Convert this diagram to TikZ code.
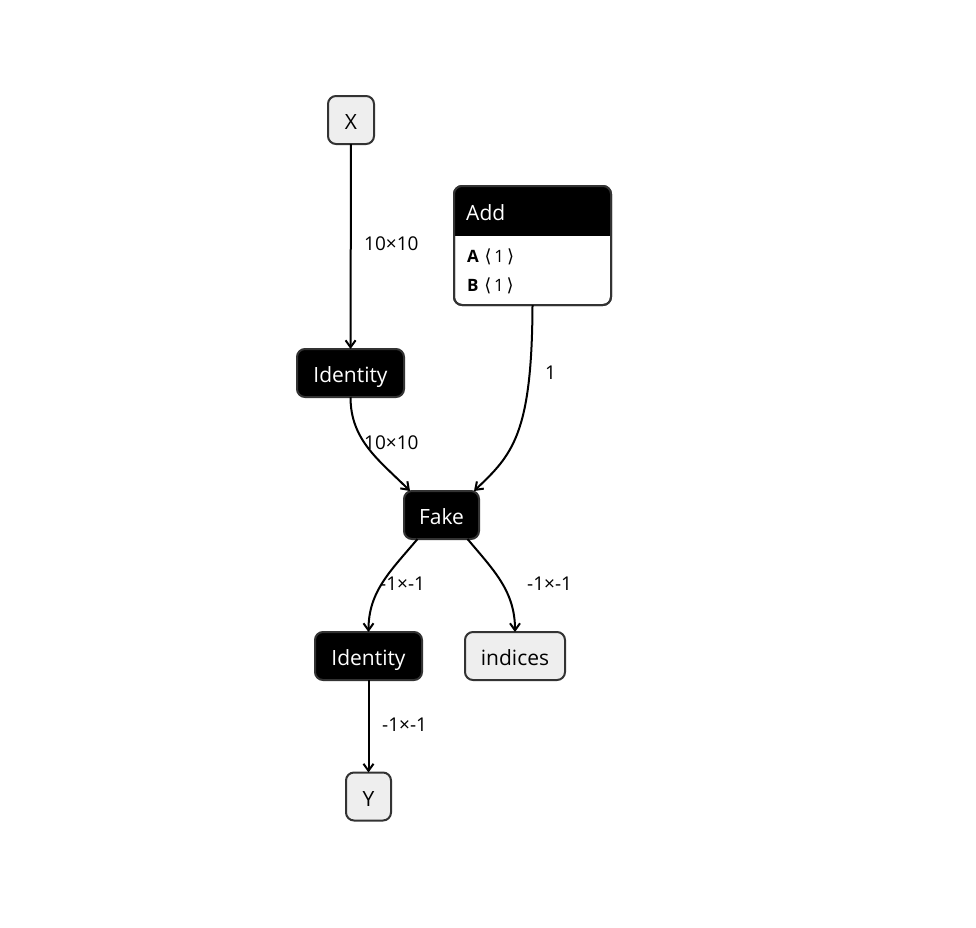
\documentclass[tikz,border=0pt]{standalone}
\usepackage{fontspec}
\setmainfont{Open Sans}
\newfontfamily\symfont{DejaVu Sans}
\usepackage{xcolor}
\usepackage{tikz}
\usetikzlibrary{arrows.meta,calc}
\definecolor{boxgray}{HTML}{EEEEEE}
\definecolor{linegray}{HTML}{333333}

\begin{document}
\begin{tikzpicture}[x=1pt,y=-1pt,>={Straight Barb[length=7pt,width=10pt]},
  box/.style={draw=linegray,line width=2pt,fill=boxgray,rounded corners=8pt,outer sep=0pt,
    minimum height=48pt,inner xsep=0pt,text height=19pt,text depth=0pt,font=\fontsize{21}{25}\selectfont},
  op/.style={box,fill=black,text=white},
  edge/.style={->,line width=2pt},
  lbl/.style={anchor=west,inner sep=0pt,font=\fontsize{19}{23}\selectfont,text=black}]
\useasboundingbox (0,0) rectangle (976,927);
% nodes
\node[box,minimum width=46pt](x) at (351,120){X};
\node[op,minimum width=107pt](id1) at (350.5,373){Identity};
\node[op,minimum width=75pt](fake) at (441.5,515){Fake};
\node[op,minimum width=107pt](id2) at (368.5,656){Identity};
\node[box,minimum width=100pt](idx) at (515,656){indices};
\node[box,minimum width=45pt](y) at (368.5,796.5){Y};
% Add with its attributes
\node[box,fill=white,minimum width=157pt,minimum height=119pt](add) at (532.5,245.5){};
\begin{scope}
\clip[rounded corners=8pt](add.north west)rectangle(add.south east);
\fill(add.north west)rectangle($(add.north east)+(0,50)$);
\end{scope}
\draw[linegray,line width=2pt,rounded corners=8pt](add.north west)rectangle(add.south east);
\node[anchor=west,inner sep=0pt,text=white,font=\fontsize{21}{25}\selectfont](addname) at ($(add.north west)+(12,27)$){Add};
\node[anchor=west,inner sep=0pt,font=\fontsize{17}{20}\selectfont](adda) at ($(add.north west)+(13,71)$){\textbf{A}\,\,{\symfont\fontsize{18}{20}\selectfont ⟨}\,1\,{\symfont\fontsize{18}{20}\selectfont ⟩}};
\node[anchor=west,inner sep=0pt,font=\fontsize{17}{20}\selectfont](addb) at ($(add.north west)+(13,100)$){\textbf{B}\,\,{\symfont\fontsize{18}{20}\selectfont ⟨}\,1\,{\symfont\fontsize{18}{20}\selectfont ⟩}};
% edges
\draw[edge](x)--(id1);
\draw[edge](id1.south)to[out=-90,in=135]($(fake.north west)+(6,0)$);
\draw[edge](add.south)..controls(532,435)and(512,455)..($(fake.north east)+(-5,0)$);
\draw[edge]($(fake.south)+(-24,0)$)to[out=-130,in=90](id2.north);
\draw[edge]($(fake.south)+(26,0)$)to[out=-50,in=90](idx.north);
\draw[edge](id2)--(y);
% labels
\node[lbl](l1) at (364,244){10×10};
\node[lbl](l2) at (364,443){10×10};
\node[lbl](l3) at (545,373){1};
\node[lbl](l4) at (380,584){-1×-1};
\node[lbl](l5) at (527,584){-1×-1};
\node[lbl](l6) at (382,725){-1×-1};
\end{tikzpicture}
\end{document}
